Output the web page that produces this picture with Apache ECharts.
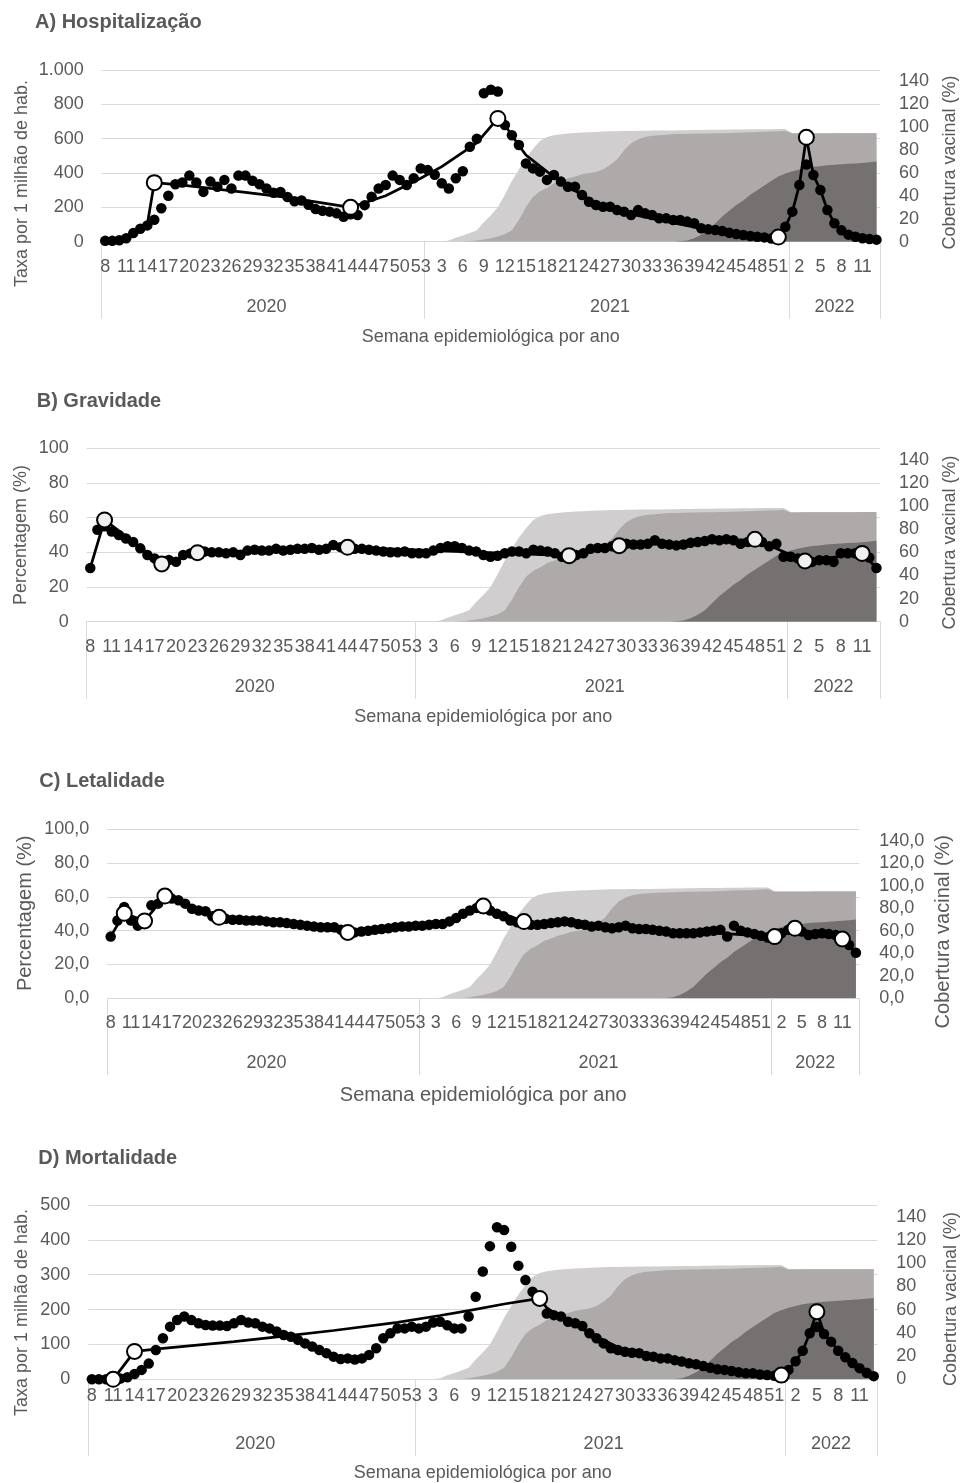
<!DOCTYPE html>
<html>
<head>
<meta charset="utf-8">
<script src="https://cdn.jsdelivr.net/npm/echarts@6/dist/echarts.min.js"></script>
<style>
  html, body { margin: 0; padding: 0; background: #ffffff; }
  #chart { width: 960px; height: 1483px; }
</style>
</head>
<body>
<div id="chart"></div>
<script>
// Epidemiological weeks shown on the x axis: [year, first week, last week]
const EPI_YEARS = [['2020', 8, 53], ['2021', 1, 52], ['2022', 1, 13]];

// A) Hospitalisation rate per 1 million inhabitants (weekly)
const HOSP = [
  5, 5, 8, 20, 50, 75, 95, 128, 195, 268,
  335, 345, 385, 345, 290, 350, 320, 360, 310, 385,
  385, 355, 335, 310, 285, 290, 260, 235, 240, 215,
  190, 180, 175, 165, 145, 160, 155, 213, 262, 310,
  330, 385, 360, 330, 370, 427, 417, 390, 340, 310,
  370, 410, 553, 600, 865, 885, 875, 680, 620, 563,
  456, 427, 408, 360, 388, 350, 320, 320, 272, 233,
  214, 204, 204, 184, 175, 155, 184, 165, 155, 136,
  136, 126, 126, 117, 107, 78, 72, 68, 62, 52,
  45, 39, 33, 29, 25, 19, 15, 87, 175, 330,
  450, 388, 301, 185, 107, 66, 41, 29, 20, 16, 12
];
// fitted trend [week index, value] and the indices of its joinpoints
const HOSP_TREND = [
  [0, 5], [1, 5], [2, 8], [3, 20], [4, 50], [5, 75], [6, 100], [7, 344],
  [11, 330], [15, 310], [20, 287], [25, 262], [30, 232], [35, 200],
  [40, 268], [45, 370], [48, 437], [53, 575], [56, 718],
  [57, 680], [58, 620], [59, 560], [60, 505], [62, 440], [65, 345], [70, 225],
  [75, 160], [80, 118], [85, 78], [90, 45], [96, 27],
  [97, 87], [98, 175], [99, 330], [100, 608],
  [101, 388], [102, 301], [103, 185], [104, 107], [105, 66], [106, 41],
  [107, 29], [108, 20], [109, 16], [110, 12]
];
const HOSP_JOINS = [7, 35, 56, 96, 100];

// B) Severity (%)
const SEVERITY = [
  31, 53, 55, 52, 50, 48, 46, 42.3, 38.5, 36.5,
  34.5, 35.6, 34.6, 38.5, 39.4, 40, 40.5, 40, 40, 39.5,
  40, 38.5, 41, 41.5, 41, 41, 42, 41, 41.5, 42,
  42, 42.5, 41.5, 42, 44.2, 43, 42.5, 42, 42, 41.5,
  41, 40.5, 40, 40, 40.5, 39.5, 39.5, 39.5, 41, 42.5,
  43.5, 43.5, 42.5, 41, 40.5, 38.5, 37.5, 38, 39.5, 40.5,
  40.5, 39.5, 41.5, 41, 40.5, 39.5, 37.5, 36.5, 38.5, 39.5,
  42, 42.5, 42.5, 43.5, 44, 45, 44.5, 44.5, 45, 47,
  45, 44.5, 44, 44.5, 45.5, 46, 46.5, 47.5, 47, 47.5,
  47, 45, 46, 47.5, 46, 43.5, 45, 37.5, 37.5, 36.5,
  35, 34.5, 35.5, 35.5, 34.5, 39.5, 39.5, 39.5, 39.5, 37, 31
];
const SEVERITY_TREND = [
  [0, 31], [2, 58.7], [10, 33.3], [15, 39.8], [36, 42.9], [67, 38.1],
  [74, 43.8], [93, 47.5], [100, 35], [108, 39.4], [110, 31]
];
const SEVERITY_JOINS = [2, 10, 15, 36, 67, 74, 93, 100, 108];

// C) Lethality (%)
const LETHALITY = [
  36.5, 46, 54, 46, 43, 45, 55, 56, 59, 59,
  58, 56, 53, 52, 51.5, 48.5, 48, 47, 46.5, 46.5,
  46, 46, 46, 45.5, 45, 45, 44.5, 44, 43.5, 43,
  42.5, 42, 42, 42, 40.5, 39.5, 39, 39.5, 40, 40.5,
  41, 41.5, 42, 42.5, 42.5, 43, 43, 43.5, 44, 44,
  45.5, 47.5, 50, 52, 53.5, 55, 52, 50, 48.5, 46,
  45, 44, 43.5, 43.5, 44, 44.5, 45, 45.5, 45, 44,
  43.5, 42.5, 43, 42, 41.5, 42, 43, 41.5, 41, 41,
  40.5, 40, 39.5, 38.5, 38.5, 38.5, 38.5, 39, 39.5, 40,
  40.5, 36.5, 43, 40, 39, 38, 37, 36, 35.5, 38.5,
  40.5, 41, 39.5, 37.5, 38, 38.5, 38, 37.5, 34, 31.5, 27
];
const LETHALITY_TREND = [
  [0, 36.5], [2, 50.3], [5, 45.8], [8, 60.5], [16, 47.9], [35, 39],
  [40, 41], [45, 43], [50, 45.5], [52, 50], [55, 54.6], [61, 45.4],
  [98, 36.5], [101, 41.4], [108, 35.1], [110, 27]
];
const LETHALITY_JOINS = [2, 5, 8, 16, 35, 55, 61, 98, 101, 108];

// D) Mortality rate per 1 million inhabitants (weekly)
const MORTALITY = [
  0, 0, 0, 0, 2, 6, 15, 27, 45, 84,
  118, 151, 170, 180, 170, 161, 156, 154, 154, 153,
  161, 170, 163, 161, 151, 146, 137, 127, 122, 113,
  103, 94, 84, 75, 65, 58, 60, 57, 60, 70,
  89, 118, 132, 146, 146, 151, 146, 151, 163, 165,
  155, 146, 146, 180, 237, 309, 382, 436, 428, 380,
  326, 285, 251, 225, 189, 184, 180, 165, 161, 153,
  132, 118, 103, 89, 84, 79, 76, 75, 67, 65,
  60, 60, 55, 51, 46, 43, 38, 33, 29, 27,
  24, 20, 17, 17, 14, 12, 10, 10, 27, 52,
  82, 132, 150, 130, 108, 82, 63, 47, 32, 19, 9
];
const MORTALITY_TREND = [
  [0, 0], [3, 0], [6, 80], [10, 89], [20, 108], [28, 126], [34, 140],
  [43, 163], [49, 183], [53, 197], [58, 216], [63, 232],
  [64, 205], [66, 178], [70, 133], [75, 82], [80, 60], [85, 43], [90, 24], [97, 12],
  [98, 27], [99, 52], [100, 82], [101, 132], [102, 194],
  [103, 132], [104, 108], [105, 82], [106, 63], [107, 47], [108, 32], [109, 19], [110, 9]
];
const MORTALITY_JOINS = [3, 6, 63, 97, 102];

// Vaccine coverage (%) - first dose, second dose, booster
const DOSE1 = [
  0, 0, 0, 0, 0, 0, 0, 0, 0, 0,
  0, 0, 0, 0, 0, 0, 0, 0, 0, 0,
  0, 0, 0, 0, 0, 0, 0, 0, 0, 0,
  0, 0, 0, 0, 0, 0, 0, 0, 0, 0,
  0, 0, 0, 0, 0, 0, 0, 0, 0, 1,
  3.5, 5.5, 7.5, 10, 17, 23, 30, 41, 53, 63,
  73, 81, 88, 91.5, 93, 93.8, 94.5, 95, 95.3, 95.6,
  95.9, 96.2, 96.4, 96.6, 96.7, 96.8, 96.9, 97, 97.1, 97.1,
  97.1, 97.2, 97.3, 97.4, 97.5, 97.6, 97.7, 97.8, 97.9, 98,
  98, 98.1, 98.2, 98.2, 98.3, 98.3, 98.4, 98.4, 95, 95,
  95, 95, 95, 95, 95, 95, 95, 95, 95, 95, 95
];
const DOSE2 = [
  0, 0, 0, 0, 0, 0, 0, 0, 0, 0,
  0, 0, 0, 0, 0, 0, 0, 0, 0, 0,
  0, 0, 0, 0, 0, 0, 0, 0, 0, 0,
  0, 0, 0, 0, 0, 0, 0, 0, 0, 0,
  0, 0, 0, 0, 0, 0, 0, 0, 0, 0,
  0, 0, 0.3, 1, 2, 3, 4.5, 6.5, 10, 19,
  30, 39, 44, 47, 51, 53, 55.5, 57, 59, 60,
  61, 63, 67, 72, 80, 86, 89.5, 91.5, 92.5, 93,
  93.5, 94, 94, 94.2, 94.4, 94.5, 94.6, 94.7, 94.8, 95,
  95.2, 95.4, 95.6, 95.8, 96, 96.2, 96.5, 96.8, 94.5, 94.5,
  94.6, 94.6, 94.6, 94.6, 94.7, 94.7, 94.7, 94.7, 94.8, 94.8, 94.8
];
const BOOSTER = [
  0, 0, 0, 0, 0, 0, 0, 0, 0, 0,
  0, 0, 0, 0, 0, 0, 0, 0, 0, 0,
  0, 0, 0, 0, 0, 0, 0, 0, 0, 0,
  0, 0, 0, 0, 0, 0, 0, 0, 0, 0,
  0, 0, 0, 0, 0, 0, 0, 0, 0, 0,
  0, 0, 0, 0, 0, 0, 0, 0, 0, 0,
  0, 0, 0, 0, 0, 0, 0, 0, 0, 0,
  0, 0, 0, 0, 0, 0, 0, 0, 0, 0,
  0, 0, 0.3, 1, 3, 6, 10, 16, 22, 27,
  32, 36, 41, 45, 49, 53, 57, 59.5, 61.5, 63,
  64.5, 65.5, 66, 66.8, 67.2, 67.6, 68, 68.4, 68.8, 69.3, 70
];

// ---- category axes built from the week ranges ----
const WEEKS = [];
const YEARS = [];
const YEAR_STARTS = [];
const YEAR_MIDS = [];
EPI_YEARS.forEach(([year, first, last]) => {
  YEAR_STARTS.push(WEEKS.length);
  YEAR_MIDS.push(WEEKS.length + Math.floor((last - first + 1) / 2));
  for (let w = first; w <= last; w++) { WEEKS.push(String(w)); YEARS.push(year); }
});

const FONT = '"Liberation Sans", Arial, sans-serif';
const TXT = '#595959';
const GRIDLINE = '#d9d9d9';
const VAX_COLORS = ['#d0cece', '#aeaaaa', '#767171'];

const thousands = v => String(v).replace(/\B(?=(\d{3})+(?!\d))/g, '.');
const oneDecimal = v => v.toFixed(1).replace('.', ',');

const panels = [
  {
    title: 'A) Hospitalização', titleAt: [35, 22],
    leftName: 'Taxa por 1 milhão de hab.', leftAt: [22, 183.5], rightAt: [950, 162.5],
    xNameAt: [490.8, 336.7], nameSize: 18,
    grid: { left: 101.7, top: 70, width: 778.3, height: 171.7 },
    max: 1000, interval: 200, leftFmt: thousands, rightFmt: v => String(v),
    weekMargin: 16, rightMargin: 19,
    dots: HOSP, trend: HOSP_TREND, joins: HOSP_JOINS, joinFill: '#ffffff'
  },
  {
    title: 'B) Gravidade', titleAt: [36.7, 401.7],
    leftName: 'Percentagem (%)', leftAt: [20.7, 535], rightAt: [950, 542.5],
    xNameAt: [483.3, 716.7], nameSize: 18,
    grid: { left: 86.7, top: 448.3, width: 793.3, height: 173.4 },
    max: 100, interval: 20, leftFmt: v => String(v), rightFmt: v => String(v),
    weekMargin: 16, rightMargin: 19,
    dots: SEVERITY, trend: SEVERITY_TREND, joins: SEVERITY_JOINS, joinFill: '#f0f0f0'
  },
  {
    title: 'C) Letalidade', titleAt: [39.3, 781.7],
    leftName: 'Percentagem (%)', leftAt: [25, 913.3], rightAt: [943, 931.7],
    xNameAt: [483.3, 1095], nameSize: 20,
    grid: { left: 107.3, top: 829.3, width: 752, height: 169 },
    max: 100, interval: 20, leftFmt: oneDecimal, rightFmt: oneDecimal,
    weekMargin: 16, rightMargin: 20,
    dots: LETHALITY, trend: LETHALITY_TREND, joins: LETHALITY_JOINS, joinFill: '#ffffff'
  },
  {
    title: 'D) Mortalidade', titleAt: [38.3, 1158.3],
    leftName: 'Taxa por 1 milhão de hab.', leftAt: [22.5, 1312.5], rightAt: [950.8, 1299],
    xNameAt: [482.8, 1473.3], nameSize: 18,
    grid: { left: 88.3, top: 1205, width: 789, height: 174.3 },
    max: 500, interval: 100, leftFmt: v => String(v), rightFmt: v => String(v),
    weekMargin: 8, rightMargin: 19,
    dots: MORTALITY, trend: MORTALITY_TREND, joins: MORTALITY_JOINS, joinFill: '#ffffff'
  }
];

const labelStyle = { color: TXT, fontSize: 18, fontFamily: FONT };

const grid = [], xAxis = [], yAxis = [], series = [], graphic = [];

panels.forEach((p, k) => {
  grid.push(Object.assign({ containLabel: false }, p.grid));

  // week numbers
  xAxis.push({
    type: 'category', gridIndex: k, position: 'bottom', data: WEEKS,
    axisLine: { show: true, lineStyle: { color: GRIDLINE, width: 1 } },
    axisTick: { show: false },
    axisLabel: Object.assign({ interval: 2, margin: p.weekMargin, hideOverlap: false }, labelStyle),
    splitLine: { show: false }
  });
  // years, with long separators at each year boundary
  xAxis.push({
    type: 'category', gridIndex: k, position: 'bottom', data: YEARS,
    axisLine: { show: false },
    axisTick: {
      show: true, length: 77, interval: i => YEAR_STARTS.includes(i),
      lineStyle: { color: GRIDLINE, width: 1 }
    },
    axisLabel: Object.assign({ interval: i => YEAR_MIDS.includes(i), margin: 56 }, labelStyle),
    splitLine: { show: false }
  });

  yAxis.push({
    type: 'value', gridIndex: k, position: 'left', min: 0, max: p.max, interval: p.interval,
    axisLine: { show: false }, axisTick: { show: false },
    axisLabel: Object.assign({ margin: 18, formatter: p.leftFmt }, labelStyle),
    splitLine: { show: true, lineStyle: { color: GRIDLINE, width: 1 } }
  });
  yAxis.push({
    type: 'value', gridIndex: k, position: 'right', min: 0, max: 150, interval: 20,
    axisLine: { show: false }, axisTick: { show: false },
    axisLabel: Object.assign({ margin: p.rightMargin, formatter: p.rightFmt, showMaxLabel: false }, labelStyle),
    splitLine: { show: false }
  });

  // vaccine coverage areas (right axis)
  [DOSE1, DOSE2, BOOSTER].forEach((vals, j) => {
    series.push({
      type: 'line', xAxisIndex: 2 * k, yAxisIndex: 2 * k + 1, data: vals,
      symbol: 'none', lineStyle: { width: 0, color: VAX_COLORS[j] },
      areaStyle: { color: VAX_COLORS[j], opacity: 1 },
      z: 1 + j * 0.1, silent: true
    });
  });

  // weekly observed values
  series.push({
    type: 'scatter', xAxisIndex: 2 * k, yAxisIndex: 2 * k, data: p.dots,
    symbol: 'circle', symbolSize: 10.5, itemStyle: { color: '#000000', opacity: 1 }, z: 3
  });

  // fitted trend
  series.push({
    type: 'line', xAxisIndex: 2 * k, yAxisIndex: 2 * k, data: p.trend,
    symbol: 'none', lineStyle: { color: '#000000', width: 2.75 }, z: 4
  });

  // joinpoints of the trend
  series.push({
    type: 'scatter', xAxisIndex: 2 * k, yAxisIndex: 2 * k,
    data: p.trend.filter(([i]) => p.joins.includes(i)),
    symbol: 'circle', symbolSize: 15,
    itemStyle: { color: p.joinFill, borderColor: '#000000', borderWidth: 2, opacity: 1 }, z: 5
  });

  // titles
  graphic.push({
    type: 'text', x: p.titleAt[0], y: p.titleAt[1],
    style: { text: p.title, fill: TXT, fontSize: 20, fontWeight: 'bold', fontFamily: FONT,
             align: 'left', verticalAlign: 'middle' }
  });
  graphic.push({
    type: 'text', x: p.leftAt[0], y: p.leftAt[1], rotation: Math.PI / 2,
    style: { text: p.leftName, fill: TXT, fontSize: p.nameSize, fontFamily: FONT,
             align: 'center', verticalAlign: 'middle' }
  });
  graphic.push({
    type: 'text', x: p.rightAt[0], y: p.rightAt[1], rotation: Math.PI / 2,
    style: { text: 'Cobertura vacinal (%)', fill: TXT, fontSize: p.nameSize, fontFamily: FONT,
             align: 'center', verticalAlign: 'middle' }
  });
  graphic.push({
    type: 'text', x: p.xNameAt[0], y: p.xNameAt[1],
    style: { text: 'Semana epidemiológica por ano', fill: TXT, fontSize: p.nameSize, fontFamily: FONT,
             align: 'center', verticalAlign: 'middle' }
  });
});

const chart = echarts.init(document.getElementById('chart'), null, { renderer: 'canvas' });
chart.setOption({
  animation: false,
  backgroundColor: '#ffffff',
  grid, xAxis, yAxis, series, graphic
});
</script>
</body>
</html>
